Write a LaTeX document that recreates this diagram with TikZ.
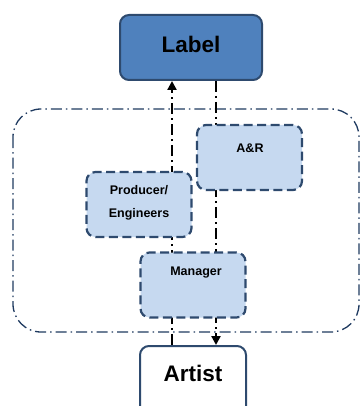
\documentclass[tikz,border=0pt]{standalone}
\usepackage{fontspec}
\setmainfont{Liberation Sans}
\usetikzlibrary{arrows.meta,backgrounds}
\definecolor{edgeblue}{HTML}{2E4A6E}
\definecolor{headblue}{HTML}{4F81BD}
\definecolor{paleblue}{HTML}{C6D9F0}
\definecolor{groupline}{HTML}{1F3A60}
\tikzset{
  x=1pt, y=-1pt,
  headbox/.style={draw=edgeblue, line width=2pt, fill=headblue, rounded corners=9pt,
    minimum width=142pt, minimum height=65pt, inner sep=0pt},
  rolebox/.style={draw=edgeblue, line width=2.2pt, fill=paleblue, rounded corners=9pt,
    dash pattern=on 9pt off 4.5pt, minimum width=105pt, minimum height=65pt, inner sep=0pt},
  basebox/.style={draw=edgeblue, line width=2pt, fill=white, rounded corners=9pt,
    minimum width=106pt, minimum height=70pt, inner sep=0pt},
  link/.style={draw=black, line width=2.2pt, dash pattern=on 11pt off 4pt on 2pt off 4pt},
  tip/.style={-{Triangle[length=9pt,width=9pt]}},
  rolefont/.style={font=\bfseries\fontsize{12.5}{23}\selectfont, align=center},
  bigfont/.style={font=\bfseries\fontsize{22.5}{26}\selectfont},
}
\begin{document}
\begin{tikzpicture}
\useasboundingbox (0,0) rectangle (361,406);
\clip (0,0) rectangle (361,406);

% organisation nodes
\node[headbox] (label) at (191,47.5) {};
\node[bigfont] (labeltext) at (191,44) {Label};

\node[rolebox] (ar) at (249.5,157.5) {};
\node[rolefont] (artext) at (250,148) {A\&R};

\node[rolebox] (prod) at (139,204.5) {};
\node[rolefont] (prodtext) at (139,202.5) {Producer/\\Engineers};

\node[rolebox] (mgr) at (193,285) {};
\node[rolefont] (mgrtext) at (196,273) {Manager};

\node[basebox] (artist) at (193,381) {};
\node[bigfont] (artisttext) at (193,373) {Artist};

\begin{scope}[on background layer]
  % surrounding group of representatives
  \draw[groupline, line width=1.3pt, rounded corners=28pt,
        dash pattern=on 11pt off 4pt on 1.5pt off 4pt]
    (13,109) rectangle (359,332);
  % reporting lines
  \draw[link, tip] ([xshift=-21pt]artist.north) -- ([xshift=-19pt]label.south);
  \draw[link, tip] ([xshift=25pt]label.south) -- ([xshift=23pt]artist.north);
\end{scope}
\end{tikzpicture}
\end{document}
